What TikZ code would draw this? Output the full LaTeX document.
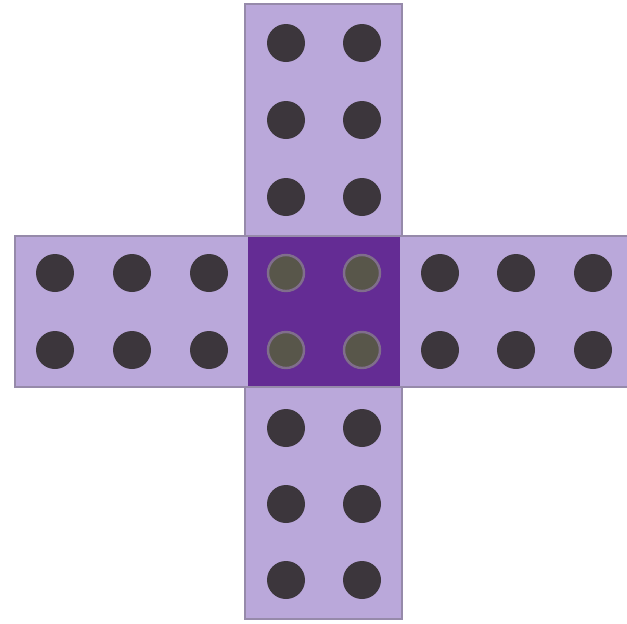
\documentclass[tikz,border=0pt]{standalone}
\definecolor{barfill}{RGB}{186,168,218}
\definecolor{bardraw}{RGB}{150,138,170}
\definecolor{centerfill}{RGB}{100,44,148}
\definecolor{dotfill}{RGB}{60,54,60}
\definecolor{cdotfill}{RGB}{88,86,74}
\definecolor{cdotring}{RGB}{128,110,140}
\tikzset{
  bar/.style={fill=barfill,draw=bardraw,line width=1pt},
  centersq/.style={fill=centerfill,draw=none},
  dot/.style={circle,fill=dotfill,inner sep=0pt,minimum size=19pt,draw=none},
  cdot/.style={circle,fill=cdotfill,draw=cdotring,line width=1.2pt,inner sep=0pt,minimum size=18pt},
}
\begin{document}
\begin{tikzpicture}[x=0.5pt,y=-0.5pt]
\useasboundingbox (0,0) rectangle (627,623);
\fill[white] (0,0) rectangle (627,623);
% bars
\draw[bar] (245,4) rectangle (402,619);
\draw[bar] (15,236) rectangle (630,387);
\fill[centersq] (248,237) rectangle (400,386);
% dots
\foreach \y [count=\i] in {43,120,197,428,504,580} {
  \node[dot] (vl\i) at (286,\y) {};
  \node[dot] (vr\i) at (362,\y) {};
}
\foreach \x [count=\i] in {55,132,209,440,516,593} {
  \node[dot] (ht\i) at (\x,273) {};
  \node[dot] (hb\i) at (\x,350) {};
}
\node[cdot] (c1) at (286,273) {};
\node[cdot] (c2) at (362,273) {};
\node[cdot] (c3) at (286,350) {};
\node[cdot] (c4) at (362,350) {};
\end{tikzpicture}
\end{document}
